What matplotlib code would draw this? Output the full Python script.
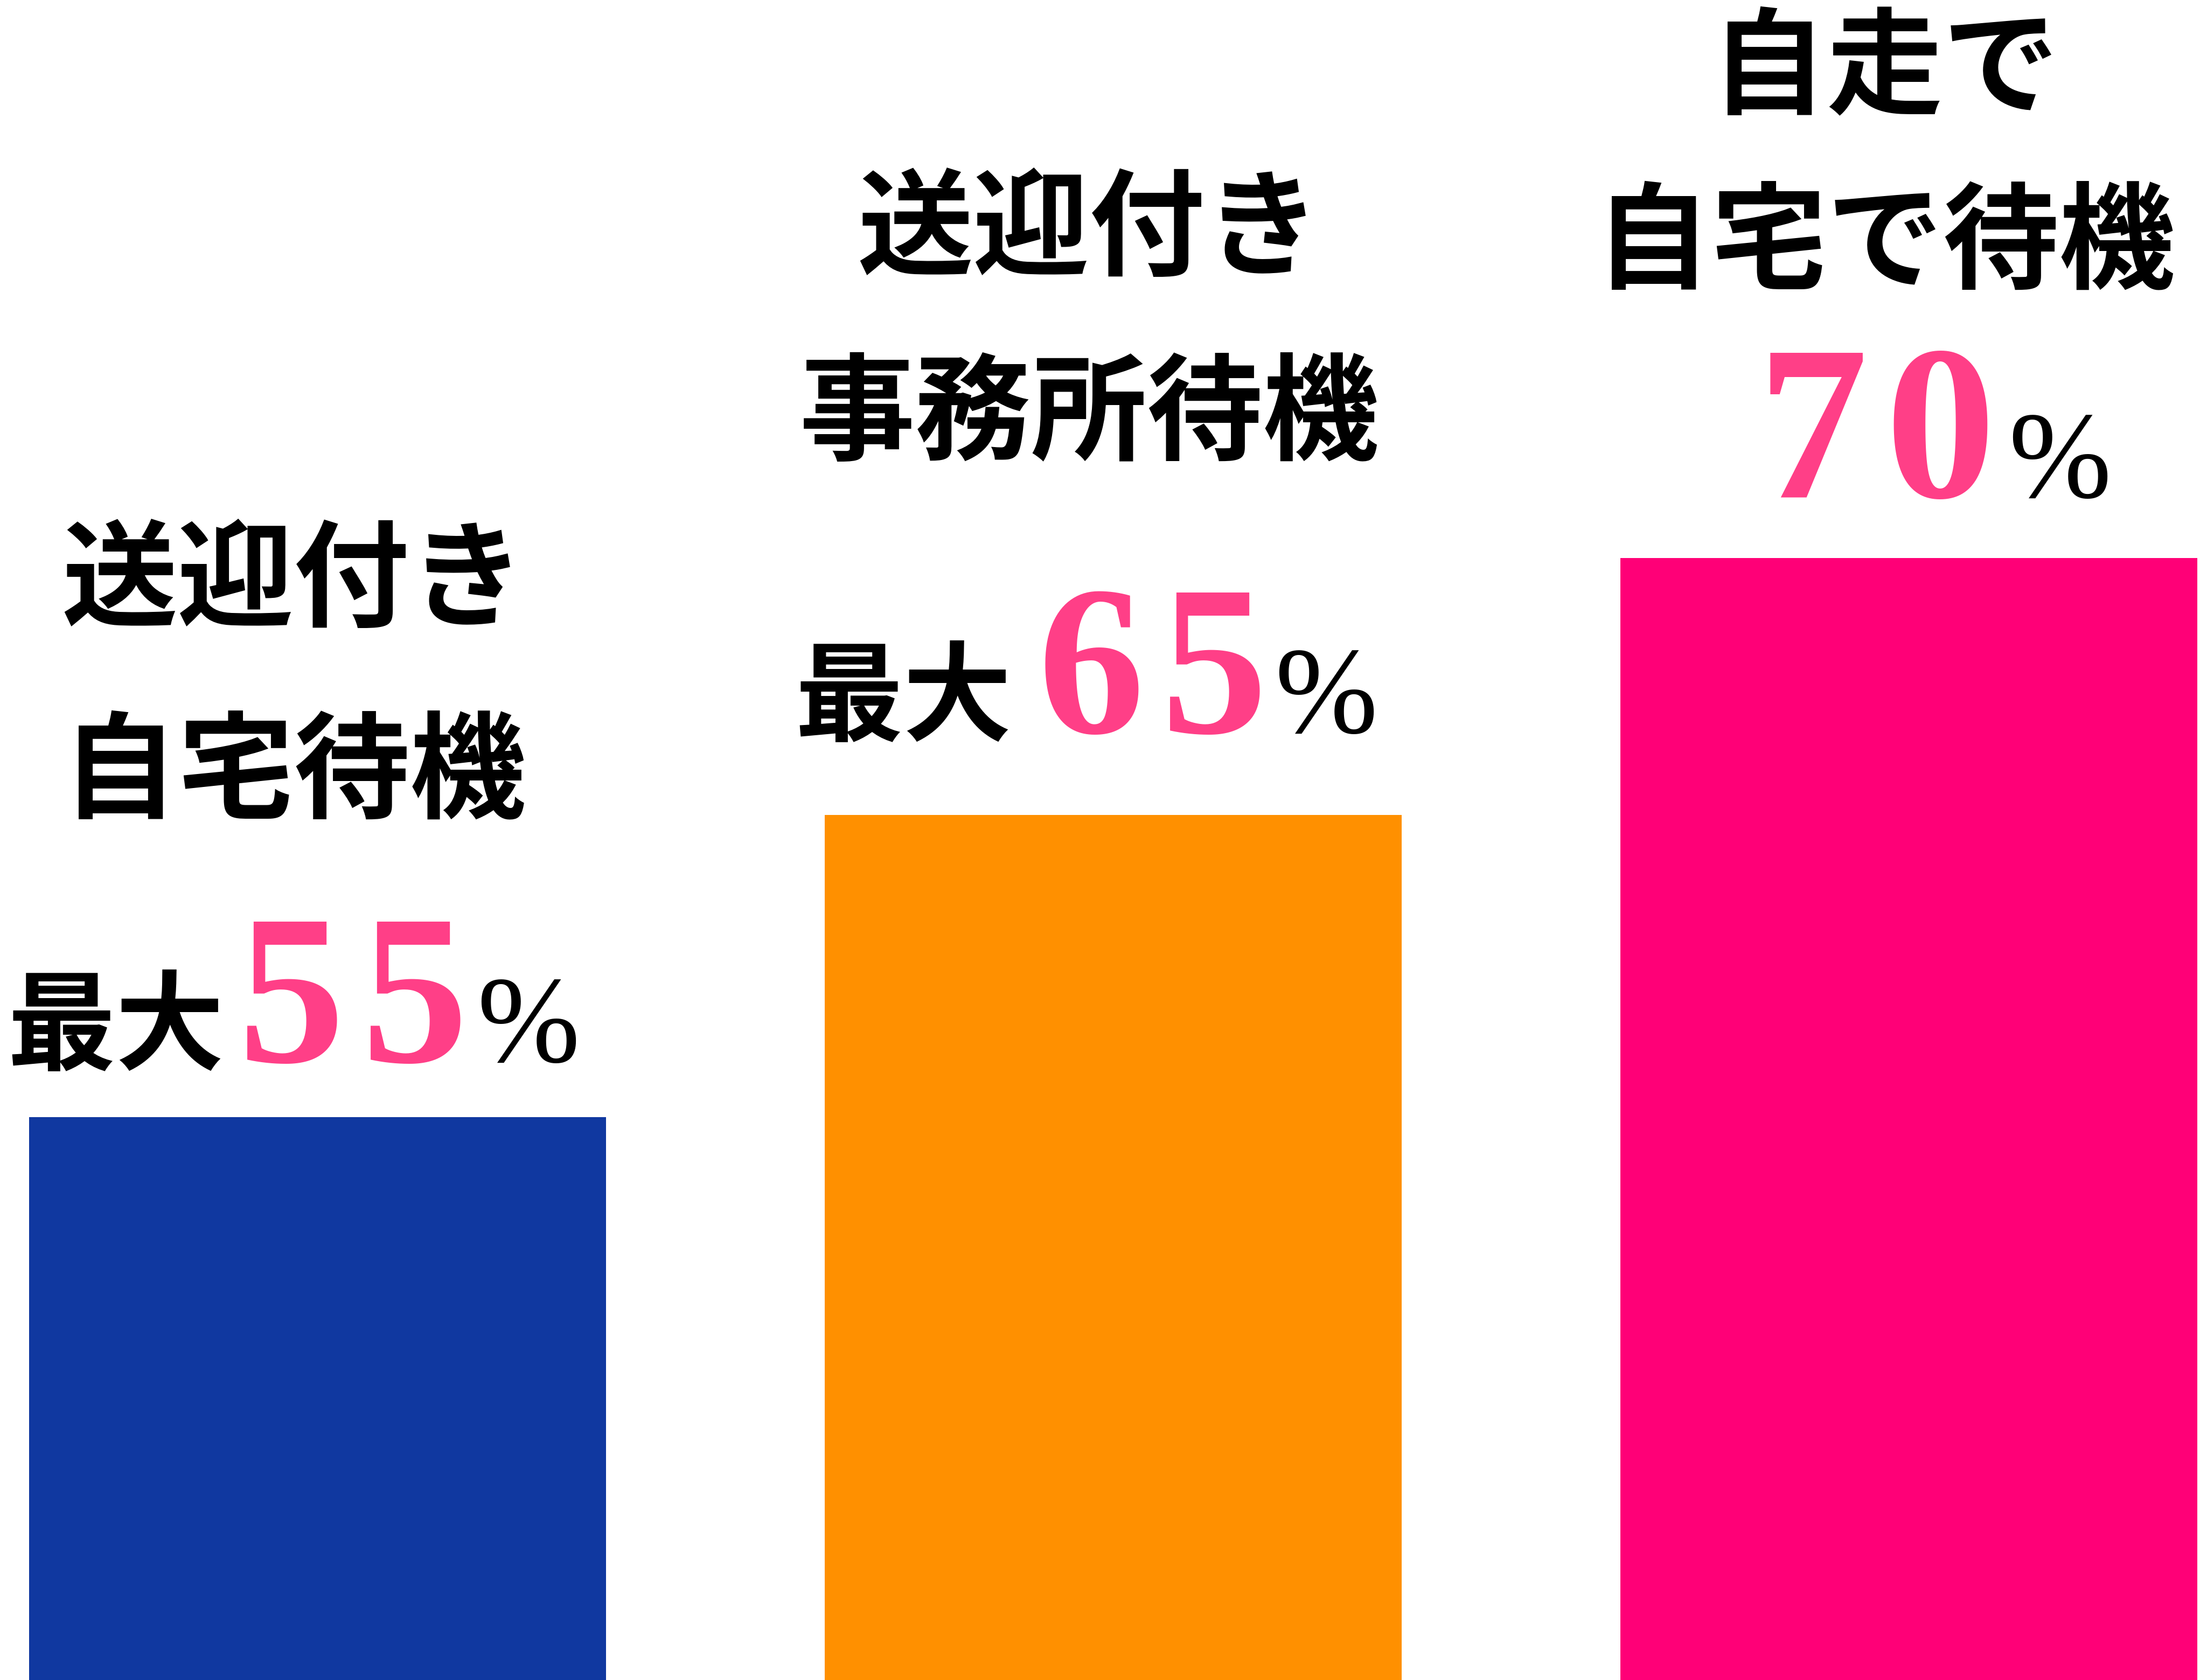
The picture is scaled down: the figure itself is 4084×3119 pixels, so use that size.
import matplotlib.pyplot as plt
import numpy as np

# Données
labels = ["送迎付き\n自宅待機", "送迎付き\n事務所待機", "自走で\n自宅で待機"]
prefixes = ["最大", "最大", ""]
values = [55, 65, 70]
# hauteurs des barres telles que dessinées (en % de la hauteur de l'image)
bar_heights = [33.5, 51.5, 66.8]
colors = ["#1038A0", "#FF9000", "#FF0077"]
pink = "#FF3F87"

# Positions du texte (y en % de la hauteur de l'image)
label_y = [(65.3, 53.9), (86.2, 75.2), (95.8, 85.4)]
value_y = [36.8, 56.4, 70.4]
prefix_dx = [-0.39, -0.40, 0]
num_dx = [-0.10, -0.095, -0.19]
digit_step = [0.155, 0.155, 0.16]
pct_dx = [0.20, 0.203, 0.125]
num_size = [285, 285, 295]

jp = ["Noto Sans CJK JP", "DejaVu Sans"]
serif = "Liberation Serif"

fig = plt.figure(figsize=(40.84, 31.19), dpi=100)
ax = fig.add_axes([0, 0, 1, 1])

x = np.arange(len(values))
ax.bar(x, bar_heights, width=0.725, color=colors)

for i in range(len(values)):
    l1, l2 = labels[i].split("\n")
    ax.text(x[i] - 0.03, label_y[i][0], l1, family=jp, weight="bold",
            fontsize=155, ha="center", va="center")
    ax.text(x[i] - 0.03, label_y[i][1], l2, family=jp, weight="bold",
            fontsize=155, ha="center", va="center")
    if prefixes[i]:
        ax.text(x[i] + prefix_dx[i], value_y[i], prefixes[i], family=jp,
                weight="bold", fontsize=145, ha="left", va="baseline")
    # chiffres un par un pour avoir l'espacement large
    for k, c in enumerate(str(values[i])):
        ax.text(x[i] + num_dx[i] + k * digit_step[i], value_y[i], c,
                family=serif, weight="bold", fontsize=num_size[i],
                color=pink, ha="left", va="baseline")
    ax.text(x[i] + pct_dx[i], value_y[i], "%", family=serif,
            fontsize=165, ha="left", va="baseline")

ax.set_xlim(-0.399, 2.366)
ax.set_ylim(0, 100)
ax.axis("off")

plt.savefig("out.png", dpi=100)
